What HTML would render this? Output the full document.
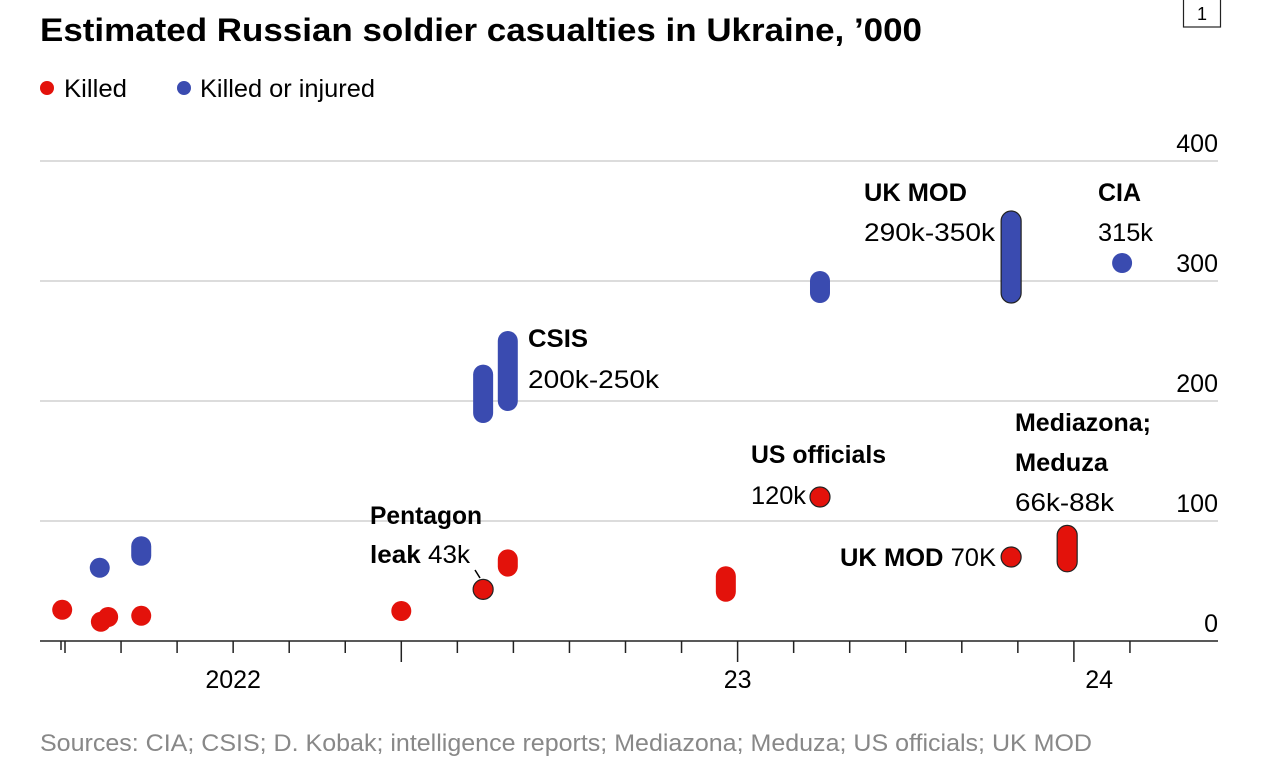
<!DOCTYPE html>
<html><head><meta charset="utf-8"><style>
body{margin:0;background:#fff;}
svg{display:block;font-family:"Liberation Sans",sans-serif;}
</style></head><body>
<svg id="chart" width="1280" height="774" viewBox="0 0 1280 774">
<text x="40" y="41" font-size="32" font-weight="bold" textLength="882" lengthAdjust="spacingAndGlyphs">Estimated Russian soldier casualties in Ukraine, ’000</text>
<rect x="1183.5" y="-2" width="37" height="29" fill="none" stroke="#222" stroke-width="1.2"/>
<text x="1202" y="20" font-size="18" text-anchor="middle">1</text>
<g>
<circle cx="47" cy="88" r="7" fill="#e3120b"/>
<text x="64" y="97" font-size="25" textLength="63" lengthAdjust="spacingAndGlyphs">Killed</text>
<circle cx="184" cy="88" r="7" fill="#3a4bb0"/>
<text x="200" y="97" font-size="25" textLength="175" lengthAdjust="spacingAndGlyphs">Killed or injured</text>
</g>
<g id="grid"></g>
<g id="axis"></g>
<g id="marks"></g>
<g font-size="25">
<text x="370" y="524" font-weight="bold" textLength="112" lengthAdjust="spacingAndGlyphs">Pentagon</text>
<text x="370" y="563" textLength="100" lengthAdjust="spacingAndGlyphs"><tspan font-weight="bold">leak</tspan> 43k</text>
<path d="M475,570 L480,578" stroke="#000" stroke-width="1.5" fill="none"/>
<text x="528" y="347" font-weight="bold" textLength="60" lengthAdjust="spacingAndGlyphs">CSIS</text>
<text x="528" y="388" textLength="131" lengthAdjust="spacingAndGlyphs">200k-250k</text>
<text x="751" y="463" font-weight="bold" textLength="135" lengthAdjust="spacingAndGlyphs">US officials</text>
<text x="751" y="504" textLength="55" lengthAdjust="spacingAndGlyphs">120k</text>
<text x="864" y="201" font-weight="bold" textLength="103" lengthAdjust="spacingAndGlyphs">UK MOD</text>
<text x="864" y="241" textLength="131" lengthAdjust="spacingAndGlyphs">290k-350k</text>
<text x="1098" y="201" font-weight="bold" textLength="43" lengthAdjust="spacingAndGlyphs">CIA</text>
<text x="1098" y="241" textLength="55" lengthAdjust="spacingAndGlyphs">315k</text>
<text x="1015" y="431" font-weight="bold" textLength="136" lengthAdjust="spacingAndGlyphs">Mediazona;</text>
<text x="1015" y="471" font-weight="bold" textLength="93" lengthAdjust="spacingAndGlyphs">Meduza</text>
<text x="1015" y="511" textLength="99" lengthAdjust="spacingAndGlyphs">66k-88k</text>
<text x="840" y="566" textLength="156" lengthAdjust="spacingAndGlyphs"><tspan font-weight="bold">UK MOD</tspan> 70K</text>
</g>
<text x="40" y="751" font-size="24" fill="#888" textLength="1052" lengthAdjust="spacingAndGlyphs">Sources: CIA; CSIS; D. Kobak; intelligence reports; Mediazona; Meduza; US officials; UK MOD</text>
</svg>
<script>
const yTicks = [0, 100, 200, 300, 400];
const xTickMonths = [0,1,2,3,4,5,6,7,8,9,10,11,12,13,14,15,16,17,18,19];
const majorTickMonths = [6, 12, 18];
const xLabels = ["2022", "23", "24"];
const xLabelMonths = [3, 12, 18.45];
// killed (red) estimates: month position, low, high (equal = single estimate)
const killedMonth = [-0.05, 0.77, 0.64, 1.36, 6.0, 7.46, 7.9, 11.79, 13.47, 16.88, 17.88];
const killedLow  = [26, 20, 16, 21, 25, 43, 62, 41, 120, 70, 66];
const killedHigh = [26, 20, 16, 21, 25, 43, 68, 54, 120, 70, 88];
const killedOutlined = [0,0,0,0,0,1,0,0,1,1,1];
// killed or injured (blue)
const injMonth = [0.62, 1.36, 7.46, 7.9, 13.47, 16.88, 18.86];
const injLow  = [61, 71, 190, 200, 290, 290, 315];
const injHigh = [61, 79, 222, 250, 300, 350, 315];
const injOutlined = [0,0,0,0,0,1,0];

const NS = "http://www.w3.org/2000/svg";
const X0 = 65, MW = 56.05, Y0 = 641, PY = 1.2, R = 10;
const xs = m => X0 + m * MW;
const ys = v => Y0 - v * PY;
function mk(tag, attrs, parent) {
  const e = document.createElementNS(NS, tag);
  for (const k in attrs) e.setAttribute(k, attrs[k]);
  parent.appendChild(e);
  return e;
}
const grid = document.getElementById('grid');
yTicks.forEach(v => {
  if (v > 0) {
    const l = mk('line', {x1: 40, x2: 1218, y1: ys(v), y2: ys(v), stroke: '#d0d0d0', 'stroke-width': 1.5}, grid);
    
    
  }
  const t = mk('text', {x: 1218, y: ys(v) - 9, 'font-size': 25, 'text-anchor': 'end'}, grid);
  t.textContent = v;
  
  
});
const axis = document.getElementById('axis');
const al = mk('line', {x1: 40, x2: 1218, y1: Y0, y2: Y0, stroke: '#222', 'stroke-width': 1.5}, axis);


const tk0 = mk('line', {x1: 61, x2: 61, y1: Y0, y2: Y0 + 9, stroke: '#222', 'stroke-width': 1.5}, axis);


xTickMonths.forEach(m => {
  const major = majorTickMonths.includes(m);
  const t = mk('line', {x1: xs(m), x2: xs(m), y1: Y0, y2: Y0 + (major ? 21 : 12), stroke: '#222', 'stroke-width': 1.5}, axis);
  
  
});
xLabels.forEach((s, i) => {
  const t = mk('text', {x: xs(xLabelMonths[i]), y: 688, 'font-size': 25, 'text-anchor': 'middle'}, axis);
  t.textContent = s;
  
  
});
const marks = document.getElementById('marks');
function drawMark(m, lo, hi, color, outline, name) {
  const x = xs(m), yT = ys(hi) - R, yB = ys(lo) + R;
  const r = mk('rect', {x: x - R, y: yT, width: 2 * R, height: yB - yT, rx: R, ry: R, fill: color,
    stroke: outline ? '#222' : 'none', 'stroke-width': 1.2}, marks);
  
  
}
killedMonth.forEach((m, i) => drawMark(m, killedLow[i], killedHigh[i], '#e3120b', killedOutlined[i], 'killed-estimate'));
injMonth.forEach((m, i) => drawMark(m, injLow[i], injHigh[i], '#3a4bb0', injOutlined[i], 'killed-or-injured-estimate'));
</script>
</body></html>
